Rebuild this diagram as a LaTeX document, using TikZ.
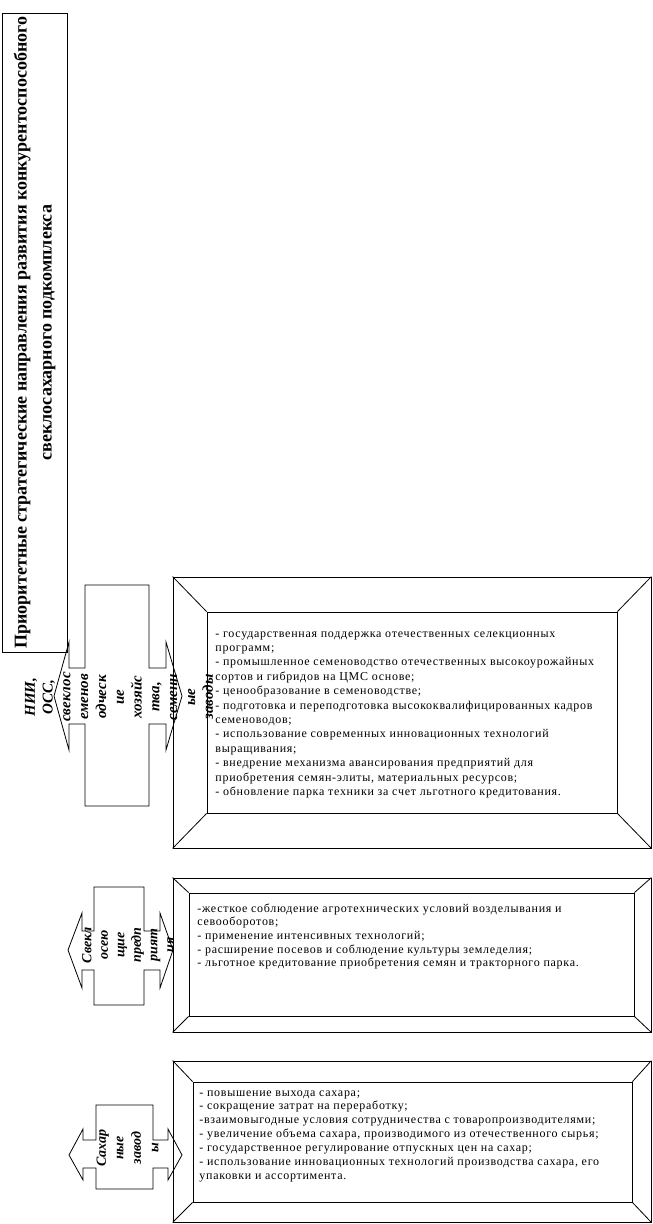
\documentclass[tikz,border=0pt]{standalone}
\usepackage{fontspec}
\setmainfont{Liberation Serif}
\newfontfamily\itemfont[LetterSpace=6]{Liberation Serif}
\usepackage{tikz}
\usetikzlibrary{positioning, arrows.meta}

\tikzset{
  outerbox/.style={draw, line width=0.8pt, inner sep=0pt},
  innerbox/.style={draw, line width=0.8pt, inner sep=0pt},
  items/.style={anchor=north west, align=left, inner sep=0pt, font=\itemfont\fontsize{12}{14.4}\selectfont},
  vtext/.style={rotate=90, align=center, inner sep=0pt, font=\bfseries\itshape\fontsize{15}{17.8}\selectfont},
  titlebox/.style={draw, line width=0.8pt, rotate=90, align=center, inner sep=0pt,
    minimum width=639pt, minimum height=65pt, font=\bfseries\fontsize{18}{25}\selectfont},
}

\begin{document}
\begin{tikzpicture}[x=1pt, y=-1pt, line width=0.8pt]
\useasboundingbox (0,0) rectangle (653,1224);

% title
\node[titlebox] (title) at (34.5,332.5)
  {Приоритетные стратегические направления развития конкурентоспособного\\свеклосахарного подкомплекса};

% seed growers
\node[outerbox, minimum width=478pt, minimum height=271pt] (seedouter) at (412,712.5) {};
\node[innerbox, minimum width=410pt, minimum height=201pt] (seedinner) at (412,712.5) {};
\draw (seedouter.north west) -- (seedinner.north west)
      (seedouter.north east) -- (seedinner.north east)
      (seedouter.south west) -- (seedinner.south west)
      (seedouter.south east) -- (seedinner.south east);
\node[items] (seeditems) at (215,631) {%
- государственная поддержка отечественных селекционных\\
программ;\\
- промышленное семеноводство отечественных высокоурожайных\\
сортов и гибридов на ЦМС основе;\\
- ценообразование в семеноводстве;\\
- подготовка и переподготовка высококвалифицированных кадров\\
семеноводов;\\
- использование современных инновационных технологий\\
выращивания;\\
- внедрение механизма авансирования предприятий для\\
приобретения семян-элиты, материальных ресурсов;\\
- обновление парка техники за счет льготного кредитования.};

\draw (54,696) -- (69,642) -- (69,668) -- (85,668) -- (85,585) -- (149,585) -- (149,668)
  -- (166,668) -- (166,642) -- (182,696) -- (166,750) -- (166,724) -- (149,724) -- (149,806)
  -- (85,806) -- (85,724) -- (69,724) -- (69,750) -- cycle;
\node[vtext] (seedactor) at (119,697)
  {НИИ,\\ОСС,\\свеклос\\еменов\\одческ\\ие\\хозяйс\\тва,\\семенн\\ые\\заводы};

% beet farms
\node[outerbox, minimum width=478pt, minimum height=154pt] (farmouter) at (412,955) {};
\node[innerbox, minimum width=445pt, minimum height=123pt] (farminner) at (411.5,954.5) {};
\draw (farmouter.north west) -- (farminner.north west)
      (farmouter.north east) -- (farminner.north east)
      (farmouter.south west) -- (farminner.south west)
      (farmouter.south east) -- (farminner.south east);
\node[items, font=\itemfont\fontsize{12}{13.7}\selectfont] (farmitems) at (197,903) {%
-жесткое соблюдение агротехнических условий возделывания и\\
севооборотов;\\
- применение интенсивных технологий;\\
- расширение посевов и соблюдение культуры земледелия;\\
- льготное кредитование приобретения семян и тракторного парка.};

\draw (68,950) -- (82,913) -- (82,931) -- (94,931) -- (94,887) -- (144,887) -- (144,931)
  -- (160,931) -- (160,913) -- (173,950) -- (160,988) -- (160,970) -- (144,970) -- (144,1005)
  -- (94,1005) -- (94,970) -- (82,970) -- (82,988) -- cycle;
\node[vtext, font=\bfseries\itshape\fontsize{14}{16.5}\selectfont] (farmactor) at (128,945)
  {Свекл\\осею\\щие\\предп\\рият\\ия};

% sugar plants
\node[outerbox, minimum width=478pt, minimum height=161pt] (sugarouter) at (412,1141.5) {};
\node[innerbox, minimum width=439pt, minimum height=120pt] (sugarinner) at (412.5,1142) {};
\draw (sugarouter.north west) -- (sugarinner.north west)
      (sugarouter.north east) -- (sugarinner.north east)
      (sugarouter.south west) -- (sugarinner.south west)
      (sugarouter.south east) -- (sugarinner.south east);
\node[items, font=\itemfont\fontsize{12}{13.9}\selectfont] (sugaritems) at (199,1090) {%
- повышение выхода сахара;\\
- сокращение затрат на переработку;\\
-взаимовыгодные условия сотрудничества с товаропроизводителями;\\
- увеличение объема сахара, производимого из отечественного сырья;\\
- государственное регулирование отпускных цен на сахар;\\
- использование инновационных технологий производства сахара, его\\
упаковки и ассортимента.};

\draw (69,1155) -- (83,1129) -- (83,1140) -- (96,1140) -- (96,1105) -- (153,1105) -- (153,1140)
  -- (168,1140) -- (168,1129) -- (182,1155) -- (168,1180) -- (168,1168) -- (153,1168) -- (153,1189)
  -- (96,1189) -- (96,1168) -- (83,1168) -- (83,1180) -- cycle;
\node[vtext, font=\bfseries\itshape\fontsize{14}{17.5}\selectfont] (sugaractor) at (127.5,1148)
  {Сахар\\ные\\завод\\ы};
\end{tikzpicture}
\end{document}
